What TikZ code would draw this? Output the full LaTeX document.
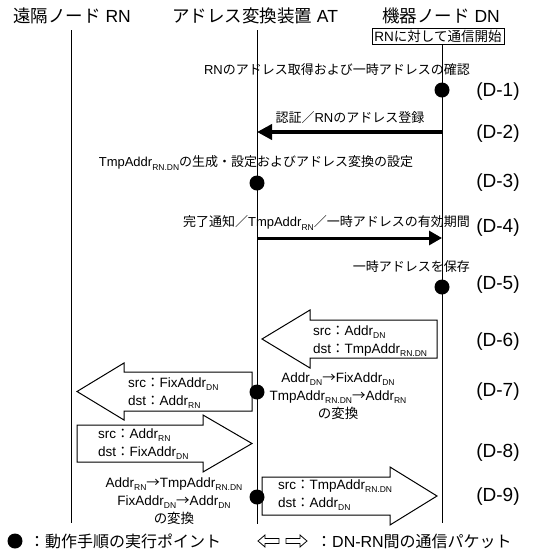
\documentclass[tikz,border=0pt]{standalone}
\usepackage{fontspec}
\setmainfont{Liberation Sans}
\newfontfamily\jpf{Noto Sans CJK JP}
\newcommand{\JP}[1]{{\jpf #1}}
\newcommand{\sbs}[1]{\raisebox{-0.45ex}{\fontsize{8.5}{8.5}\selectfont #1}}
\usetikzlibrary{arrows.meta}
\tikzset{
  title/.style={font=\fontsize{17.5}{17.5}\selectfont, inner sep=0pt},
  lbl/.style={font=\fontsize{13}{14}\selectfont, inner sep=0pt},
  dlab/.style={font=\fontsize{19}{19}\selectfont, inner sep=0pt},
  pk/.style={font=\fontsize{13.5}{18}\selectfont, align=left, inner sep=0pt},
  conv/.style={font=\fontsize{13.5}{18}\selectfont, align=center, inner sep=0pt},
  legend/.style={font=\fontsize{16}{16}\selectfont, inner sep=0pt},
  life/.style={line width=1pt},
  pdot/.style={circle, fill=black, minimum size=15pt, inner sep=0pt},
  packet/.style={draw, line width=1pt, fill=white},
  msgthick/.style={line width=4pt, -{Triangle[length=15pt,width=15pt]}},
  msgmed/.style={line width=3pt, -{Triangle[length=13pt,width=14pt]}},
}
\begin{document}
\begin{tikzpicture}[x=1pt,y=-1pt]
\useasboundingbox (0,0) rectangle (536,550);
% titles
\node[title] (tRN) at (72,16) {\JP{遠隔ノード} RN};
\node[title] (tAT) at (255,16) {\JP{アドレス変換装置} AT};
\node[title] (tDN) at (441,16) {\JP{機器ノード} DN};
\node[draw, line width=1pt, minimum width=132pt, minimum height=16pt, inner sep=0pt,
      font=\fontsize{13.5}{14}\selectfont] (box) at (438,36.5) {RN\JP{に対して通信開始}};
% lifelines
\coordinate (rnTop) at (71,30);
\coordinate (rnBot) at (71,523);
\coordinate (atTop) at (257,30);
\coordinate (atBot) at (257,524);
\coordinate (dnBot) at (442,523);
\draw[life] (rnTop) -- (rnBot);
\draw[life] (atTop) -- (atBot);
\draw[life] (box.south -| dnBot) -- (dnBot);

% D-1
\node[lbl, anchor=east] (t1) at (470,70) {RN\JP{のアドレス取得および一時アドレスの確認}};
\node[pdot] (p1) at (442,90) {};
\node[dlab] (d1) at (498,92) {(D-1)};
% D-2
\node[lbl] (t2) at (350,118) {\JP{認証／}RN\JP{のアドレス登録}};
\coordinate (a2s) at (442,132);
\coordinate (a2e) at (257,132);
\draw[msgthick] (a2s) -- (a2e);
\node[dlab] (d2) at (498,134) {(D-2)};
% D-3
\node[lbl] (t3) at (256,163) {TmpAddr\sbs{RN.DN}\JP{の生成・設定およびアドレス変換の設定}};
\node[pdot] (p3) at (257,183) {};
\node[dlab] (d3) at (498,183) {(D-3)};
% D-4
\node[lbl, anchor=east] (t4) at (470,223) {\JP{完了通知／}TmpAddr\sbs{RN}\JP{／一時アドレスの有効期間}};
\coordinate (a4s) at (257,238);
\coordinate (a4e) at (442,238);
\draw[msgmed] (a4s) -- (a4e);
\node[dlab] (d4) at (498,228) {(D-4)};
% D-5
\node[lbl, anchor=east] (t5) at (470,267) {\JP{一時アドレスを保存}};
\node[pdot] (p5) at (442,287) {};
\node[dlab] (d5) at (498,285) {(D-5)};
% D-6
\draw[packet] (437,320) -- (310,320) -- (310,310) -- (262,339) -- (310,368) -- (310,358) -- (437,358) -- cycle;
\node[pk, anchor=west] (k6) at (313,341) {src\JP{：}Addr\sbs{DN}\\dst\JP{：}TmpAddr\sbs{RN.DN}};
\node[dlab] (d6) at (498,342) {(D-6)};
% D-7
\draw[packet] (252,372) -- (124,372) -- (124,363) -- (77,391.5) -- (124,420) -- (124,411) -- (252,411) -- cycle;
\node[pk, anchor=west] (k7) at (128,393) {src\JP{：}FixAddr\sbs{DN}\\dst\JP{：}Addr\sbs{RN}};
\node[pdot] (p7) at (257,392) {};
\node[conv] (c7) at (338,396) {Addr\sbs{DN}\JP{→}FixAddr\sbs{DN}\\TmpAddr\sbs{RN.DN}\JP{→}Addr\sbs{RN}\\\JP{の変換}};
\node[dlab] (d7) at (498,392) {(D-7)};
% D-8
\draw[packet] (77,425) -- (203,425) -- (203,415) -- (252,443.5) -- (203,472) -- (203,462) -- (77,462) -- cycle;
\node[pk, anchor=west] (k8) at (98,444) {src\JP{：}Addr\sbs{RN}\\dst\JP{：}FixAddr\sbs{DN}};
\node[dlab] (d8) at (498,453) {(D-8)};
% D-9
\draw[packet] (262,477) -- (390,477) -- (390,467) -- (437,496) -- (390,525) -- (390,515) -- (262,515) -- cycle;
\node[pk, anchor=west] (k9) at (278,495) {src\JP{：}TmpAddr\sbs{RN.DN}\\dst\JP{：}Addr\sbs{DN}};
\node[pdot] (p9) at (257,497) {};
\node[conv] (c9) at (174,501) {Addr\sbs{RN}\JP{→}TmpAddr\sbs{RN.DN}\\FixAddr\sbs{DN}\JP{→}Addr\sbs{DN}\\\JP{の変換}};
\node[dlab] (d9) at (498,497) {(D-9)};
% legend
\node[pdot] (lgdot) at (15,541) {};
\node[legend, anchor=west] (lgt1) at (29,541) {\JP{：動作手順の実行ポイント}};
\draw[line width=0.8pt] (258,541) -- (265,535) -- (265,538.5) -- (279,538.5) -- (279,543.5) -- (265,543.5) -- (265,547) -- cycle;
\draw[line width=0.8pt] (307,541) -- (300,535) -- (300,538.5) -- (286,538.5) -- (286,543.5) -- (300,543.5) -- (300,547) -- cycle;
\node[legend, anchor=west] (lgt2) at (316,541) {\JP{：}DN-RN\JP{間の通信パケット}};
\end{tikzpicture}
\end{document}
